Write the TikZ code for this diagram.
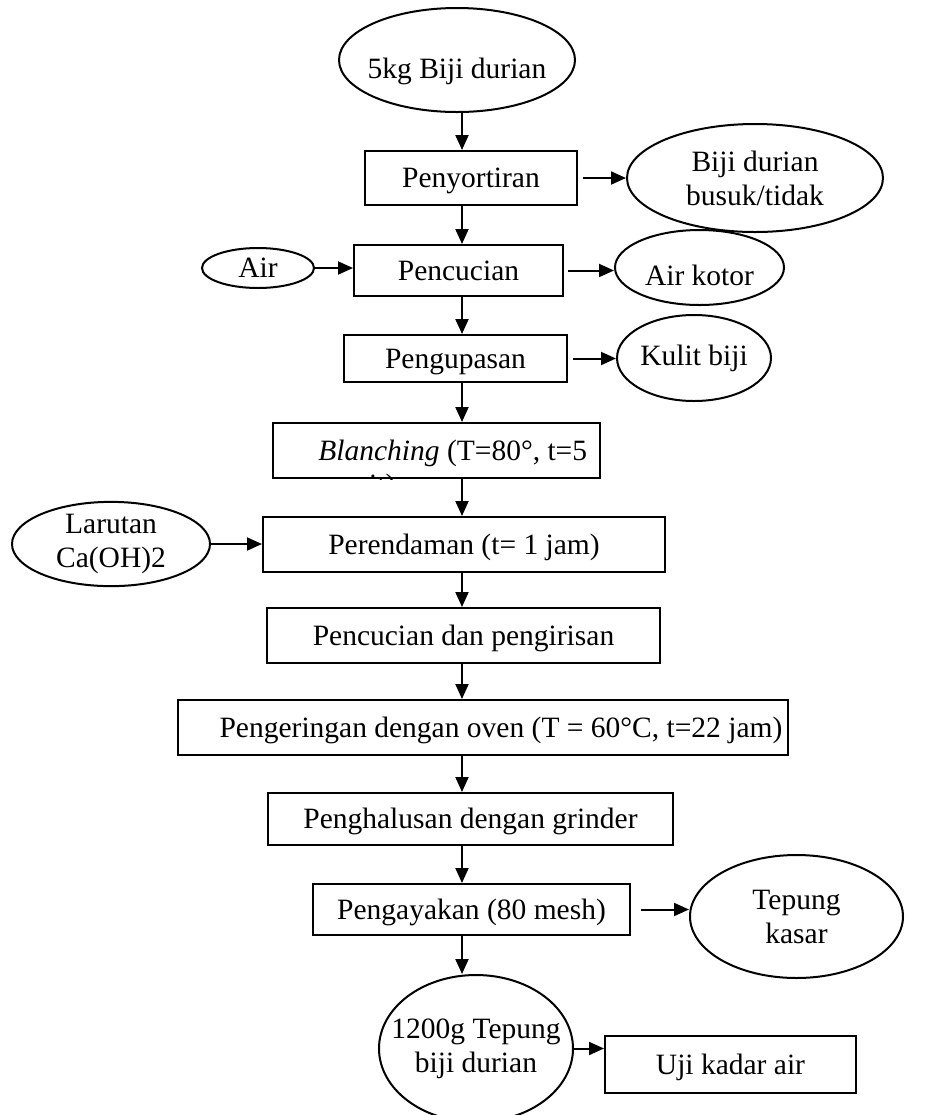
\documentclass[tikz,border=0pt]{standalone}
\usepackage{fontspec}
\setmainfont{Liberation Serif}
\usetikzlibrary{shapes.geometric,arrows.meta}
\begin{document}
\begin{tikzpicture}[x=0.5pt,y=-0.5pt]
                        \tikzstyle{every node}=[font=\fontsize{14.75}{17}\selectfont]
                        \tikzstyle{proses}=[draw, rectangle, line width=1pt, inner sep=0pt, text height=13pt, text depth=3.2pt]
                        \tikzstyle{bahan}=[draw, ellipse, line width=1pt, inner xsep=-10pt, inner ysep=0pt, align=center]
                        \tikzstyle{turun}=[text height=20pt, text depth=2pt]
                        \tikzstyle{panah}=[line width=1pt, -{Triangle[length=7.5pt,width=6.5pt]}]
                        \clip (0,0) rectangle (929,1115);
                        \coordinate (poros) at (462,0);
                        \node[bahan, turun, minimum width=118pt, minimum height=52pt] (biji) at (457,60) {5kg Biji durian};
                        \node[proses, minimum width=106pt, minimum height=27pt] (sortir) at (471,178) {Penyortiran};
                        \node[bahan, minimum width=128pt, minimum height=54pt] (busuk) at (755,178) {Biji durian\\busuk/tidak};
                        \node[bahan, minimum width=56pt, minimum height=20pt] (air) at (258,268) {Air};
                        \node[proses, minimum width=104.5pt, minimum height=25.5pt] (cuci) at (458.5,270.5) {Pencucian};
                        \node[bahan, turun, minimum width=84.5pt, minimum height=37.5pt] (kotor) at (699.5,267.5) {Air kotor};
                        \node[proses, minimum width=111.5pt, minimum height=23.5pt] (kupas) at (455.5,358.5) {Pengupasan};
                        \node[bahan, minimum width=77pt, minimum height=43pt] (kulit) at (694,358) {Kulit biji};
                        \node[proses, minimum width=163.5pt, minimum height=27.5pt] (blanch) at (436.5,450.5) {};
                        \begin{scope}
                            \clip (blanch.north west) rectangle (blanch.south east);
                            \node[anchor=north west, align=left, inner sep=0pt] (blanchtxt) at (318,440) {\textit{Blanching} (T=80°, t=5\\menit)};
                        \end{scope}
                        \node[bahan, minimum width=99pt, minimum height=39pt] (larutan) at (111,544) {Larutan\\Ca(OH)2};
                        \node[proses, minimum width=201pt, minimum height=27.5pt] (rendam) at (464,544.5) {Perendaman (t= 1 jam)};
                        \node[proses, minimum width=196.5pt, minimum height=27.5pt] (iris) at (463.5,635.5) {Pencucian dan pengirisan};
                        \node[proses, minimum width=305pt, minimum height=27.5pt] (oven) at (483,727.5) {\hspace*{18pt}Pengeringan dengan oven (T = 60°C, t=22 jam)};
                        \node[proses, minimum width=202.5pt, minimum height=26pt] (halus) at (470.5,819) {Penghalusan dengan grinder};
                        \node[proses, minimum width=158.5pt, minimum height=25.5pt] (ayak) at (471.5,909.5) {Pengayakan (80 mesh)};
                        \node[bahan, minimum width=106.5pt, minimum height=61.5pt] (kasar) at (796.5,916.5) {Tepung\\kasar};
                        \node[bahan, minimum width=97pt, minimum height=73.5pt] (tepung) at (476,1048.5) {1200g Tepung\\biji durian};
                        \node[proses, minimum width=125.5pt, minimum height=28.5pt] (uji) at (730.5,1064.5) {Uji kadar air};
                        \draw[panah] (biji.south -| poros) -- (sortir.north -| poros);
                        \draw[panah] (sortir.south -| poros) -- (cuci.north -| poros);
                        \draw[panah] (cuci.south -| poros) -- (kupas.north -| poros);
                        \draw[panah] (kupas.south -| poros) -- (blanch.north -| poros);
                        \draw[panah] (blanch.south -| poros) -- (rendam.north -| poros);
                        \draw[panah] (rendam.south -| poros) -- (iris.north -| poros);
                        \draw[panah] (iris.south -| poros) -- (oven.north -| poros);
                        \draw[panah] (oven.south -| poros) -- (halus.north -| poros);
                        \draw[panah] (halus.south -| poros) -- (ayak.north -| poros);
                        \draw[panah] (ayak.south -| poros) -- (tepung.north -| poros);
                        \draw[panah, shorten <=2.5pt] (sortir.east) -- (sortir.east -| busuk.west);
                        \draw[panah] (air.east) -- (air.east -| cuci.west);
                        \draw[panah, shorten <=2pt] (cuci.east) -- (cuci.east -| kotor.west);
                        \draw[panah, shorten <=2.5pt] (kupas.east) -- (kupas.east -| kulit.west);
                        \draw[panah] (larutan.east) -- (larutan.east -| rendam.west);
                        \draw[panah, shorten <=5pt] (ayak.east) -- (ayak.east -| kasar.west);
                        \draw[panah] (tepung.east) -- (tepung.east -| uji.west);
\end{tikzpicture}
\end{document}
